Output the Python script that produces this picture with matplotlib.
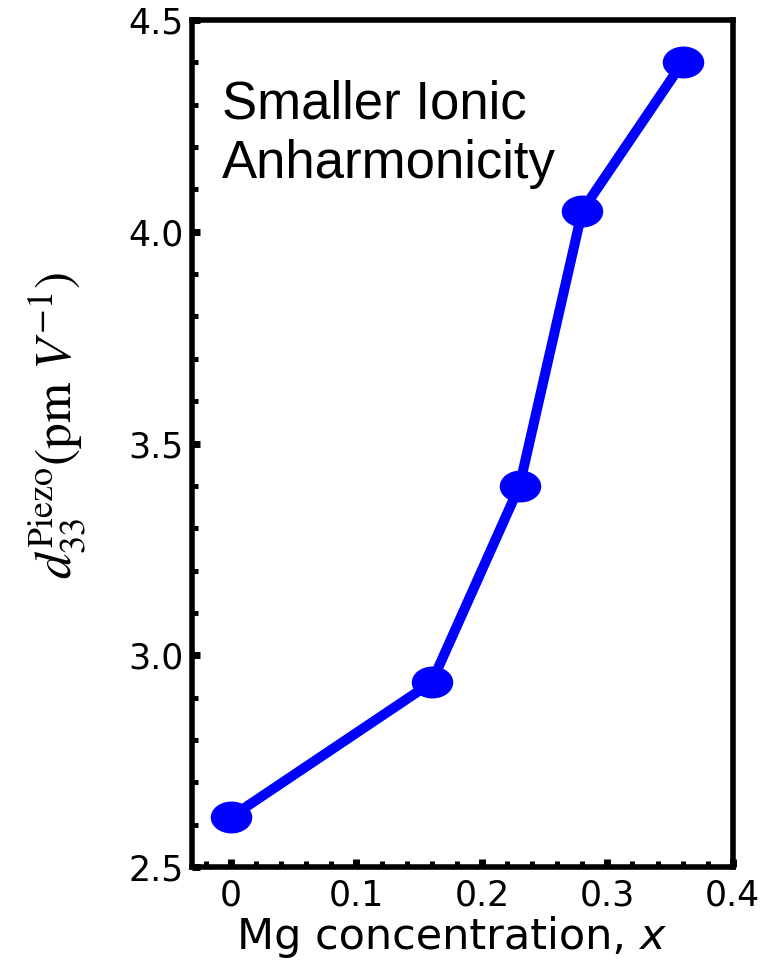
import numpy as np
import matplotlib
matplotlib.use("Agg")
import matplotlib.pyplot as plt
from matplotlib.markers import MarkerStyle
from matplotlib.transforms import Affine2D
from matplotlib.ticker import MultipleLocator

# data
mg_conc = [0.0, 0.16, 0.23, 0.28, 0.36]
d33 = [2.618, 2.936, 3.40, 4.05, 4.40]

x_ticks = [0, 0.1, 0.2, 0.3, 0.4]
x_tick_labels = ["0", "0.1", "0.2", "0.3", "0.4"]
y_ticks = [2.5, 3.0, 3.5, 4.0, 4.5]
y_tick_labels = ["2.5", "3.0", "3.5", "4.0", "4.5"]

plt.rcParams['font.family'] = ['Liberation Sans', 'DejaVu Sans']
plt.rcParams['mathtext.fontset'] = 'stix'

fig = plt.figure(figsize=(7.69, 9.73), dpi=100)
ax = fig.add_axes([0.2497, 0.1089, 0.7033, 0.8705])

# ellipse-shaped markers, wider than tall
marker = MarkerStyle('o', transform=Affine2D().scale(1.3, 1.0))
ax.plot(mg_conc, d33, color='#0000ff', lw=7.2, marker=marker,
        markersize=23, markeredgewidth=0, solid_capstyle='round')

ax.set_xlim(-0.031, 0.4)
ax.set_ylim(2.5, 4.5)
ax.set_xticks(x_ticks)
ax.set_xticklabels(x_tick_labels, family='DejaVu Sans')
ax.set_yticks(y_ticks)
ax.set_yticklabels(y_tick_labels, family='DejaVu Sans')
ax.xaxis.set_minor_locator(MultipleLocator(0.02))
ax.yaxis.set_minor_locator(MultipleLocator(0.1))

ax.tick_params(which='both', direction='in', top=False, right=False,
               labelsize=25)
ax.tick_params(which='major', length=5.5, width=5)
ax.tick_params(which='minor', length=4, width=3.6)
ax.tick_params(axis='x', which='major', pad=8)
ax.tick_params(axis='y', which='major', pad=6)

for s in ax.spines.values():
    s.set_linewidth(4)

# x label: upright text plus a sans italic "x" right after it
xl = ax.set_xlabel("Mg concentration, ", fontsize=31, family='DejaVu Sans')
ax.xaxis.set_label_coords(0.455, -0.058)
ax.annotate("x", xy=(1, 0), xycoords=xl, va='bottom', ha='left',
            fontsize=31, family='DejaVu Sans', style='italic')

ax.set_ylabel("$d_{33}^{\\mathrm{Piezo}}(\\mathrm{pm}\\ V^{-1})$",
              fontsize=37)
ax.yaxis.set_label_coords(-0.193, 0.522)

ax.text(0.055, 0.93, "Smaller Ionic\nAnharmonicity", transform=ax.transAxes,
        fontsize=38, va='top', ha='left', linespacing=1.25)

fig.savefig("out.png", dpi=100)
